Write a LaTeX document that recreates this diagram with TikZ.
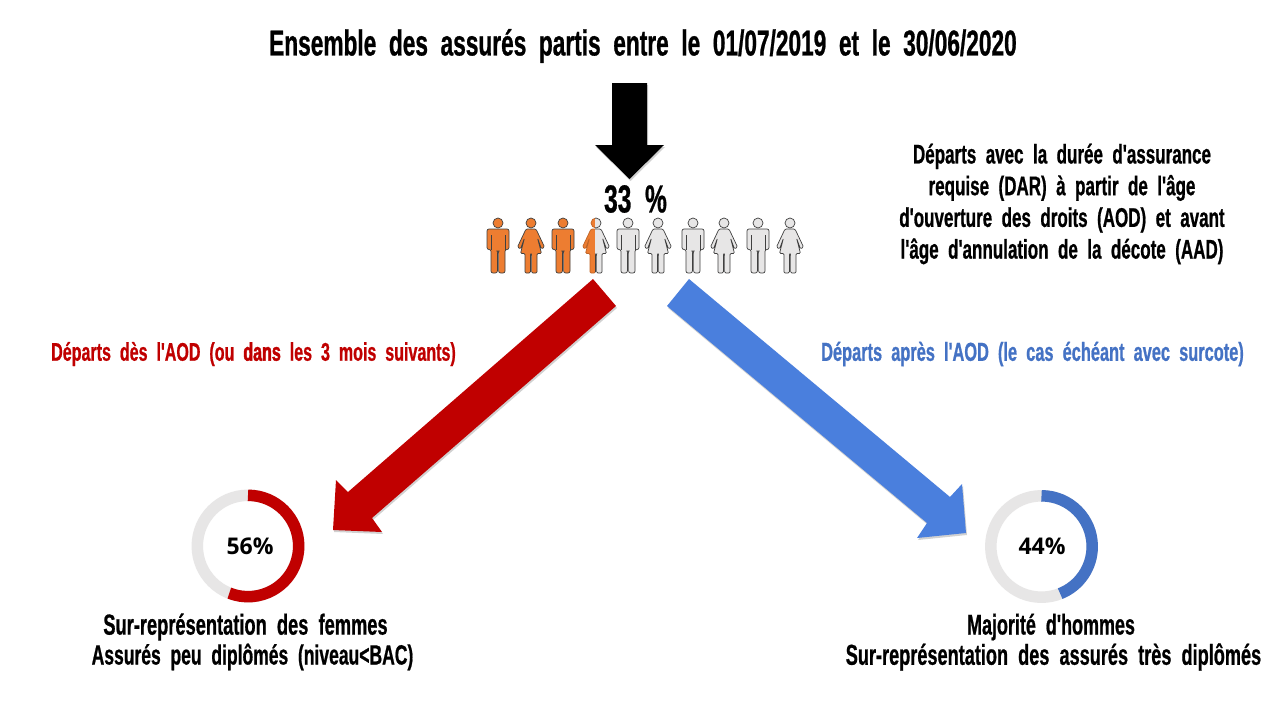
\documentclass[tikz,border=0pt]{standalone}
\usepackage{fontspec}
\setmainfont{Liberation Sans}
\newfontfamily\cf[FakeStretch=0.63,WordSpace=2.0,FakeBold=0.7]{Liberation Sans}
\newfontfamily\cfh[FakeStretch=0.63,WordSpace=2.0,FakeBold=1.8]{Liberation Sans}
\newfontfamily\ringfont{Open Sans}
\definecolor{ared}{HTML}{C00000}
\definecolor{ablue}{HTML}{4A7FDD}
\definecolor{rblue}{HTML}{4472C4}
\definecolor{rgray}{HTML}{E7E6E6}
\definecolor{porange}{HTML}{ED7D31}
\tikzset{
  x=1pt,y=-1pt,
  cond/.style={font=\cf\bfseries\fontsize{#1}{#1}\selectfont,inner sep=0pt,text=black},
  darstyle/.style={font=\cf\bfseries\fontsize{#1}{31.7}\selectfont,inner sep=0pt,text=black,align=center},
  shad/.style={preaction={fill=black,opacity=.18,transform canvas={shift={(1pt,-2pt)}}}},
  ringnum/.style={font=\ringfont\bfseries\fontsize{23}{23}\selectfont,inner sep=0pt,text=black},
  ringbase/.style={line width=11.5pt,rgray},
  man/.pic={
    \path[pic actions,rounded corners=2pt]
      (-11,31.5)--(-11,11)--(11,11)--(11,31.5)--(7,31.5)--(7,55)--(.6,55)--(.6,33)--(-.6,33)--(-.6,55)--(-7,55)--(-7,31.5)--cycle;
    \path[pic actions] (0,5) circle[radius=5];
    \path[pic actions,fill=none] (-7,17)--(-7,31.5) (7,17)--(7,31.5);
  },
  woman/.pic={
    \path[pic actions,rounded corners=1.2pt]
      (-5,11)--(5,11)--(13.5,29)--(10.5,31)--(6.5,20)--(10.5,35.5)--(6,35.5)--(6,55)--(.6,55)--(.6,36)--(-.6,36)--(-.6,55)--(-6,55)--(-6,35.5)--(-10.5,35.5)--(-6.5,20)--(-10.5,31)--(-13.5,29)--cycle;
    \path[pic actions] (0,5) circle[radius=5];
  }
}
\begin{document}
\begin{tikzpicture}
\useasboundingbox (0,0) rectangle (1280,720);
\fill[white] (0,0) rectangle (1280,720);
% title
\node[cond=36] (title) at (643,46) {Ensemble des assurés partis entre le 01/07/2019 et le 30/06/2020};
% black arrow
\fill[black,shad] (612,83)--(647,83)--(647,145)--(664,145)--(629.5,179)--(595,145)--(612,145)--cycle;
\node[cond=39] (pct) at (635.5,199) {33 \%};
% people
\foreach \px/\kind/\col in {498/man/porange,531/woman/porange,563/man/porange,628/man/rgray,658/woman/rgray,693/man/rgray,724/woman/rgray,758/man/rgray,790/woman/rgray}{
  \pic[fill=\col,draw=black!75,line width=.7pt,line join=round] at (\px,218) {\kind};
}
\begin{scope}
  \clip (575,210) rectangle (595,280);
  \pic[fill=porange,draw=porange!80!black,line width=.7pt] at (596,218) {woman};
\end{scope}
\begin{scope}
  \clip (595,210) rectangle (620,280);
  \pic[fill=rgray,draw=black!75,line width=.7pt] at (596,218) {woman};
\end{scope}
% right text
\node[darstyle=27] (dar) at (1062,204) {Départs avec la durée d'assurance\\requise (DAR) à partir de l'âge\\d'ouverture des droits (AOD) et avant\\l'âge d'annulation de la décote (AAD)};
% red arrow
\fill[ared,shad] (593,279)--(616,306)--(372,518)--(382,532)--(333,530)--(336,480)--(348,492)--cycle;
% blue arrow
\fill[ablue,shad] (689,279)--(667,306)--(927,523)--(917,538)--(966,533)--(962,484)--(950,497)--cycle;
% branch labels
\node[cond=25.5,text=ared] (lblred) at (253.5,354) {Départs dès l'AOD (ou {\cfh dans} les 3 mois suivants)};
\node[cond=26,text=rblue] (lblblue) at (1032.5,354) {Départs après l'AOD (le cas échéant avec surcote)};
% rings
\draw[ringbase] (248,546) circle[radius=50.7];
\draw[line width=11.5pt,ared] (248,495.3) arc[start angle=-90,delta angle=201.6,x radius=50.7,y radius=50.7];
\node[ringnum] (n56) at (250,546) {56\%};
\draw[ringbase] (1041.5,546.5) circle[radius=50.7];
\draw[line width=11.5pt,rblue] (1041.5,495.8) arc[start angle=-90,delta angle=158.4,x radius=50.7,y radius=50.7];
\node[ringnum] (n44) at (1042,546) {44\%};
% bottom text
\node[cond=29] (l1) at (245.5,627) {Sur-représentation des femmes};
\node[cond=27.8] (l2) at (252.5,657) {Assurés peu diplômés (niveau<BAC)};
\node[cond=28.5] (r1) at (1051,627) {Majorité d'hommes};
\node[cond=28.8] (r2) at (1053.5,657) {Sur-représentation des assurés très diplômés};
\end{tikzpicture}
\end{document}
